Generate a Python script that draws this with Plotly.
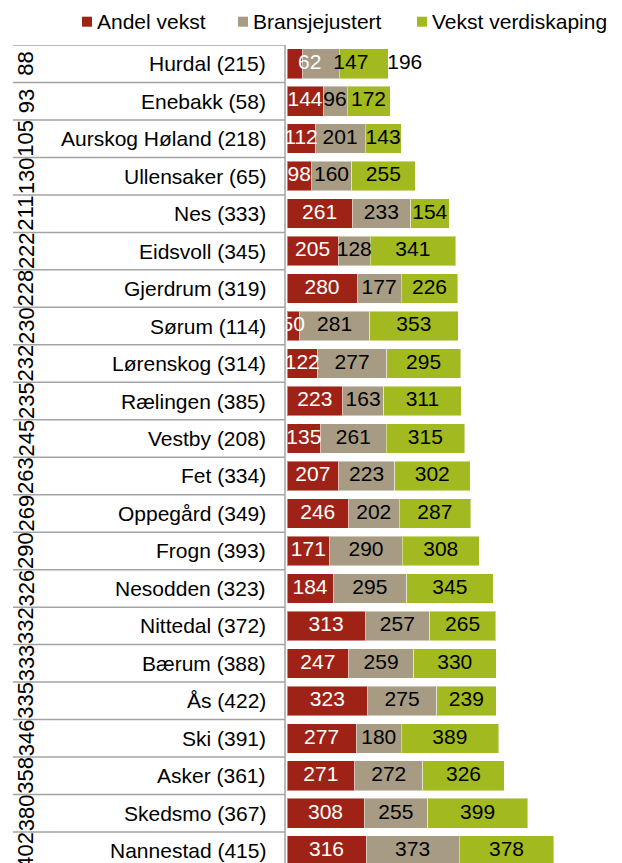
import plotly.graph_objects as go

# ---------------- data ----------------
kommuner = ["Hurdal (215)", "Enebakk (58)", "Aurskog Høland (218)", "Ullensaker (65)",
            "Nes (333)", "Eidsvoll (345)", "Gjerdrum (319)", "Sørum (114)",
            "Lørenskog (314)", "Rælingen (385)", "Vestby (208)", "Fet (334)",
            "Oppegård (349)", "Frogn (393)", "Nesodden (323)", "Nittedal (372)",
            "Bærum (388)", "Ås (422)", "Ski (391)", "Asker (361)",
            "Skedsmo (367)", "Nannestad (415)"]
rangering = ["88", "93", "105", "130", "211", "222", "228", "230", "232", "235", "245",
             "263", "269", "290", "326", "332", "333", "335", "346", "358", "380", "402"]
andel_vekst = [62, 144, 112, 98, 261, 205, 280, 50, 122, 223, 135, 207, 246, 171,
               184, 313, 247, 323, 277, 271, 308, 316]
bransjejustert = [147, 96, 201, 160, 233, 128, 177, 281, 277, 163, 261, 223, 202, 290,
                  295, 257, 259, 275, 180, 272, 255, 373]
vekst_verdiskaping = [196, 172, 143, 255, 154, 341, 226, 353, 295, 311, 315, 302, 287,
                      308, 345, 265, 330, 239, 389, 326, 399, 378]
serie_navn = ["Andel vekst", "Bransjejustert", "Vekst verdiskaping"]

# ---------------- style / layout ----------------
W, H = 622, 863
ML, MR, MT, MB = 287, 5, 45, 0
PW, PH = W - ML - MR, H - MT - MB
XMAX = 1320
ROW_PX = 37.476
Y_TOP = -0.5
Y_BOT = Y_TOP + PH / ROW_PX
FONT = "Arial, Liberation Sans, sans-serif"
FS = 21
COLORS = ["#9E2316", "#A89B84", "#A2BA20"]
TEXT_COLORS = ["white", "black", "black"]
GRID = "#A3A3A3"
# label nudges (pixels) for the first row as in the original
NUDGE_PX = {(0, 0): 15, (0, 1): 30, (0, 2): 41}


def pxx(p):
    return (p - ML) / PW


def pxy(p):
    return 1 - (p - MT) / PH


n = len(kommuner)
rows = list(range(n))
series = [andel_vekst, bransjejustert, vekst_verdiskaping]

fig = go.Figure()
for s, vals in enumerate(series):
    fig.add_trace(go.Bar(
        y=rows, x=vals, orientation="h", name=serie_navn[s],
        marker=dict(color=COLORS[s], line=dict(color="rgba(255,255,255,0.45)", width=1)),
        hoverinfo="skip", showlegend=False,
    ))

# value labels
unit_px = PW / XMAX
for s, vals in enumerate(series):
    xs, txt = [], []
    for i in rows:
        base = sum(series[k][i] for k in range(s))
        xs.append(base + vals[i] / 2 + NUDGE_PX.get((i, s), 0) / unit_px)
        txt.append(str(vals[i]))
    fig.add_trace(go.Scatter(
        x=xs, y=rows, mode="text", text=txt, textposition="middle center",
        textfont=dict(family=FONT, size=FS, color=TEXT_COLORS[s]),
        hoverinfo="skip", showlegend=False, cliponaxis=True,
    ))

shapes = []
annotations = []
# table: row separators and right border
for i in range(n + 1):
    shapes.append(dict(type="line", xref="paper", yref="y",
                       x0=pxx(13), x1=pxx(285), y0=i - 0.5, y1=i - 0.5,
                       line=dict(color=GRID, width=1.5)))
shapes.append(dict(type="line", xref="paper", yref="y",
                   x0=pxx(285), x1=pxx(285), y0=Y_TOP, y1=Y_BOT,
                   line=dict(color=GRID, width=1.5)))

for i in rows:
    annotations.append(dict(xref="paper", yref="y", x=0, y=i, xshift=-19,
                            xanchor="right", yanchor="middle", showarrow=False,
                            text=kommuner[i], font=dict(family=FONT, size=FS, color="black")))
    annotations.append(dict(xref="paper", yref="y", x=pxx(26), y=i,
                            xanchor="center", yanchor="middle", showarrow=False,
                            textangle=-90, text=rangering[i],
                            font=dict(family=FONT, size=22, color="black")))

# legend
leg_x = [82, 238, 417]
for s in range(3):
    shapes.append(dict(type="rect", xref="paper", yref="paper",
                       x0=pxx(leg_x[s]), x1=pxx(leg_x[s] + 10),
                       y0=pxy(26.7), y1=pxy(16.7),
                       fillcolor=COLORS[s], line=dict(width=0)))
    annotations.append(dict(xref="paper", yref="paper", x=pxx(leg_x[s] + 13), y=pxy(21.5),
                            xanchor="left", yanchor="middle", showarrow=False,
                            text=serie_navn[s], font=dict(family=FONT, size=FS, color="black")))

fig.update_layout(
    width=W, height=H, barmode="stack", bargap=0.21,
    margin=dict(l=ML, r=MR, t=MT, b=MB),
    paper_bgcolor="white", plot_bgcolor="white",
    xaxis=dict(range=[0, XMAX], visible=False, fixedrange=True),
    yaxis=dict(range=[Y_BOT, Y_TOP], visible=False, fixedrange=True),
    shapes=shapes, annotations=annotations, showlegend=False,
)

fig.write_html(
    "out.html",
    config={"displayModeBar": False},
    post_script="document.body.style.margin='0';document.body.style.padding='0';"
                "document.body.style.overflow='hidden';",
)
